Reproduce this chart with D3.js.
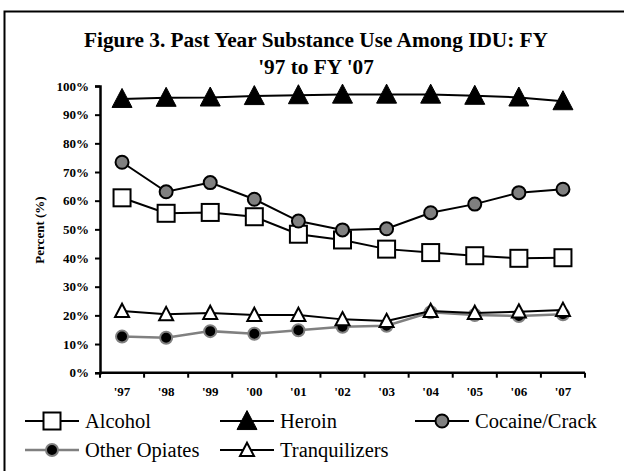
<!DOCTYPE html>
<html>
<head>
<meta charset="utf-8">
<script src="https://cdn.jsdelivr.net/npm/d3@7"></script>
<style>
  body { margin: 0; background: #fff; }
  svg { display: block; font-family: "Liberation Serif", "Times New Roman", serif; }
</style>
</head>
<body>
<svg id="canvas" width="624" height="471"></svg>
<script>
var years = ["'97", "'98", "'99", "'00", "'01", "'02", "'03", "'04", "'05", "'06", "'07"];
var alcohol       = [61.0, 55.6, 55.9, 54.4, 48.3, 46.3, 43.1, 41.9, 40.8, 39.9, 40.1];
var heroin        = [95.5, 95.9, 96.0, 96.5, 96.8, 97.0, 97.0, 97.0, 96.6, 96.0, 94.7];
var cocaine       = [73.4, 63.1, 66.3, 60.5, 52.9, 49.8, 50.2, 55.8, 58.8, 62.8, 64.0];
var otherOpiates  = [12.6, 12.2, 14.5, 13.6, 14.8, 16.0, 16.4, 21.1, 20.1, 19.8, 20.4];
var tranquilizers = [21.5, 20.4, 20.8, 20.1, 20.1, 18.6, 18.0, 21.5, 20.8, 21.3, 21.9];
var yTicks = [0, 10, 20, 30, 40, 50, 60, 70, 80, 90, 100];

var series = [
  { name: "Other Opiates", values: otherOpiates, line: "#808080", lw: 2.5, shape: "circle", size: 6, fill: "#000", stroke: "#808080", sw: 2 },
  { name: "Tranquilizers", values: tranquilizers, line: "#000", lw: 2, shape: "triangle", size: 14, fill: "#fff", stroke: "#000", sw: 2 },
  { name: "Alcohol", values: alcohol, line: "#000", lw: 2, shape: "square", size: 17, fill: "#fff", stroke: "#000", sw: 2 },
  { name: "Cocaine/Crack", values: cocaine, line: "#000", lw: 2, shape: "circle", size: 6.5, fill: "#808080", stroke: "#000", sw: 2 },
  { name: "Heroin", values: heroin, line: "#000", lw: 2, shape: "triangle", size: 20, fill: "#000", stroke: "#000", sw: 1 }
];

var svg = d3.select('#canvas');

// frame (only top and left edges fall inside the picture)
svg.append('rect')
  .attr('x', 4.5).attr('y', 11.5).attr('width', 640).attr('height', 480)
  .attr('fill', 'none').attr('stroke', '#000').attr('stroke-width', 2);

// title
var title = svg.append('text').attr('text-anchor', 'middle')
  .attr('font-weight', 'bold').attr('font-size', 21.3);
title.append('tspan').attr('x', 316).attr('y', 47).text("Figure 3. Past Year Substance Use Among IDU: FY");
title.append('tspan').attr('x', 316).attr('y', 74).text("'97 to FY '07");

var plotLeft = 100, plotRight = 585, plotTop = 86, plotBottom = 372.7;
var x = d3.scaleBand().domain(years).range([plotLeft, plotRight]);
var y = d3.scaleLinear().domain([0, 100]).range([plotBottom, plotTop]);

var yAxis = svg.append('g').attr('transform', 'translate(' + plotLeft + ',0)')
  .call(d3.axisLeft(y).tickValues(yTicks).tickSize(5).tickPadding(6).tickFormat(d => d + '%'));
var xAxis = svg.append('g').attr('transform', 'translate(0,' + plotBottom + ')')
  .call(d3.axisBottom(x).tickSize(0).tickPadding(14));
// tick marks between categories
xAxis.selectAll('.edge').data(d3.range(years.length + 1)).enter().append('line')
  .attr('x1', i => plotLeft + i * x.step()).attr('x2', i => plotLeft + i * x.step())
  .attr('y1', 0).attr('y2', 5).attr('stroke', '#000').attr('stroke-width', 2);

[yAxis, xAxis].forEach(function(a){
  a.attr('font-family', 'Liberation Serif').attr('font-size', 13).attr('font-weight', 'bold');
  a.select('.domain').attr('stroke', '#000').attr('stroke-width', 2.5);
  a.selectAll('.tick line').attr('stroke', '#000').attr('stroke-width', 2);
  a.selectAll('.tick text').style('font-family', 'Liberation Serif').style('font-size', '13px')
    .style('font-weight', 'bold').attr('fill', '#000');
});
xAxis.select('.domain').attr('d', 'M' + plotLeft + ',0H' + plotRight);

svg.append('text').attr('transform', 'translate(44,230) rotate(-90)')
  .attr('text-anchor', 'middle').attr('font-weight', 'bold').attr('font-size', 13)
  .text('Percent (%)');

function drawMarker(g, s, cx, cy) {
  if (s.shape === 'circle') {
    g.append('circle').attr('cx', cx).attr('cy', cy).attr('r', s.size)
      .attr('fill', s.fill).attr('stroke', s.stroke).attr('stroke-width', s.sw);
  } else if (s.shape === 'square') {
    var h = s.size / 2;
    g.append('rect').attr('x', cx - h).attr('y', cy - h).attr('width', s.size).attr('height', s.size)
      .attr('fill', s.fill).attr('stroke', s.stroke).attr('stroke-width', s.sw);
  } else {
    var w = s.size / 2, ht = s.size * 0.95;
    g.append('path')
      .attr('d', 'M' + cx + ',' + (cy - ht * 0.55) + 'L' + (cx + w) + ',' + (cy + ht * 0.45) + 'L' + (cx - w) + ',' + (cy + ht * 0.45) + 'Z')
      .attr('fill', s.fill).attr('stroke', s.stroke).attr('stroke-width', s.sw).attr('stroke-linejoin', 'miter');
  }
}

var lineGen = d3.line().x((d, i) => x(years[i]) + x.bandwidth() / 2).y(d => y(d));

series.forEach(function(s){
  var g = svg.append('g');
  g.append('path').attr('d', lineGen(s.values)).attr('fill', 'none')
    .attr('stroke', s.line).attr('stroke-width', s.lw);
  s.values.forEach(function(v, i){
    drawMarker(g, s, x(years[i]) + x.bandwidth() / 2, y(v));
  });
});

// legend
var legendPos = {
  "Alcohol": [25, 421], "Heroin": [220, 421], "Cocaine/Crack": [415, 421],
  "Other Opiates": [25, 450], "Tranquilizers": [220, 450]
};
var legendOrder = ["Alcohol", "Heroin", "Cocaine/Crack", "Other Opiates", "Tranquilizers"];
legendOrder.forEach(function(name){
  var s = series.find(d => d.name === name);
  var p = legendPos[name];
  var g = svg.append('g');
  g.append('line').attr('x1', p[0]).attr('x2', p[0] + 54).attr('y1', p[1]).attr('y2', p[1])
    .attr('stroke', s.line).attr('stroke-width', s.lw);
  drawMarker(g, s, p[0] + 27, p[1]);
  g.append('text').attr('x', p[0] + 60).attr('y', p[1] + 6.5).attr('font-size', 20.5)
    .text(name);
});
</script>
</body>
</html>
